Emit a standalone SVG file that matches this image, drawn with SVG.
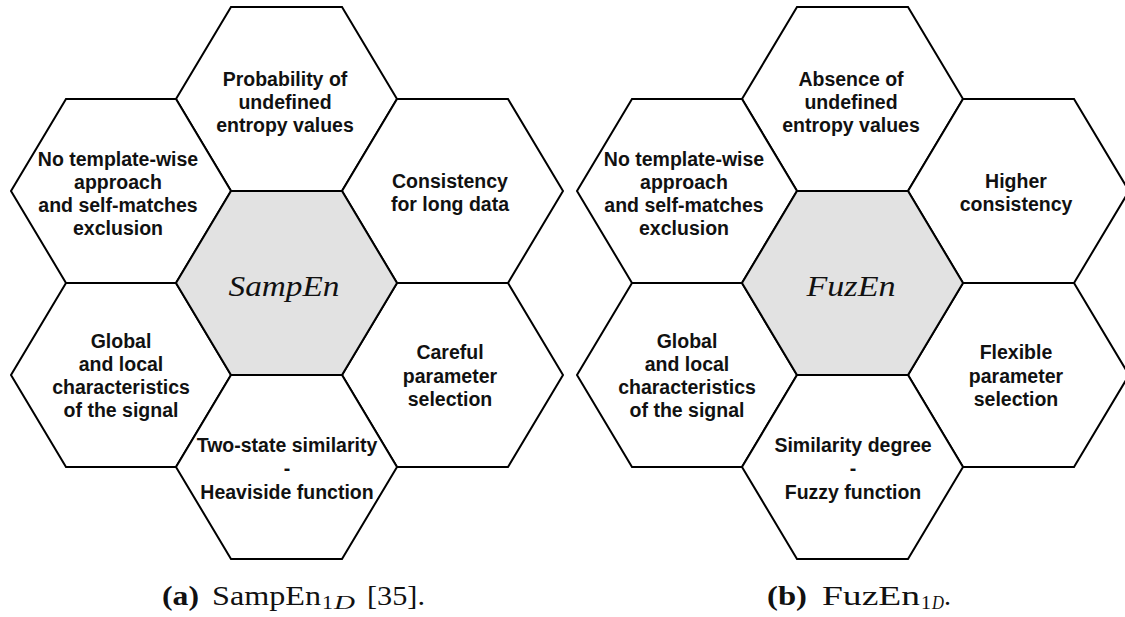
<svg xmlns="http://www.w3.org/2000/svg" width="1125" height="617" viewBox="0 0 1125 617">
<style>
.hex{fill:#ffffff;stroke:#000000;stroke-width:2;stroke-linejoin:miter}
.core{fill:#e2e2e2;stroke:#000000;stroke-width:2}
.lbl{font-family:"Liberation Sans",Arial,sans-serif;font-weight:bold;font-size:19.5px;fill:#111111;text-anchor:middle}
.math{font-family:"Liberation Serif","Times New Roman",serif;font-style:italic;font-size:30px;fill:#111111;text-anchor:middle}
.cap{font-family:"Liberation Serif","Times New Roman",serif;font-size:28px;fill:#111111}
.capb{font-weight:bold}
.sub{font-family:"Liberation Serif","Times New Roman",serif;font-size:19px;fill:#111111}
</style>
<rect x="0" y="0" width="1125" height="617" fill="#ffffff"/>

<!-- Left diagram: SampEn -->
<g id="a-top">
<polygon class="hex" points="231,7 342,7 397,99 342,191 231,191 176,99"/>
<text class="lbl" x="285" y="86">Probability of</text>
<text class="lbl" x="285" y="109">undefined</text>
<text class="lbl" x="285" y="132">entropy values</text>
</g>
<g id="a-topleft">
<polygon class="hex" points="66,99 176,99 231,191 176,283 66,283 11,191"/>
<text class="lbl" x="118" y="166">No template-wise</text>
<text class="lbl" x="118" y="189">approach</text>
<text class="lbl" x="118" y="212">and self-matches</text>
<text class="lbl" x="118" y="235">exclusion</text>
</g>
<g id="a-topright">
<polygon class="hex" points="397,99 508,99 563,191 508,283 397,283 342,191"/>
<text class="lbl" x="450" y="188">Consistency</text>
<text class="lbl" x="450" y="211">for long data</text>
</g>
<g id="a-bottomleft">
<polygon class="hex" points="66,283 176,283 231,375 176,467 66,467 11,375"/>
<text class="lbl" x="121" y="348">Global</text>
<text class="lbl" x="121" y="371">and local</text>
<text class="lbl" x="121" y="394">characteristics</text>
<text class="lbl" x="121" y="417">of the signal</text>
</g>
<g id="a-bottomright">
<polygon class="hex" points="397,283 508,283 563,375 508,467 397,467 342,375"/>
<text class="lbl" x="450" y="359">Careful</text>
<text class="lbl" x="450" y="382.5">parameter</text>
<text class="lbl" x="450" y="406">selection</text>
</g>
<g id="a-bottom">
<polygon class="hex" points="231,375 342,375 397,467 342,559 231,559 176,467"/>
<text class="lbl" x="287" y="452">Two-state similarity</text>
<text class="lbl" x="287" y="475">-</text>
<text class="lbl" x="287" y="498.5">Heaviside function</text>
</g>
<g id="a-center">
<polygon class="core" points="231,191 342,191 397,283 342,375 231,375 176,283"/>
<text class="math" x="284" y="296" textLength="111" lengthAdjust="spacingAndGlyphs">SampEn</text>
</g>

<!-- Right diagram: FuzEn -->
<g id="b-top">
<polygon class="hex" points="797,7 908,7 963,99 908,191 797,191 742,99"/>
<text class="lbl" x="851" y="86">Absence of</text>
<text class="lbl" x="851" y="109">undefined</text>
<text class="lbl" x="851" y="132">entropy values</text>
</g>
<g id="b-topleft">
<polygon class="hex" points="632,99 742,99 797,191 742,283 632,283 577,191"/>
<text class="lbl" x="684" y="166">No template-wise</text>
<text class="lbl" x="684" y="189">approach</text>
<text class="lbl" x="684" y="212">and self-matches</text>
<text class="lbl" x="684" y="235">exclusion</text>
</g>
<g id="b-topright">
<polygon class="hex" points="963,99 1074,99 1129,191 1074,283 963,283 908,191"/>
<text class="lbl" x="1016" y="188">Higher</text>
<text class="lbl" x="1016" y="211">consistency</text>
</g>
<g id="b-bottomleft">
<polygon class="hex" points="632,283 742,283 797,375 742,467 632,467 577,375"/>
<text class="lbl" x="687" y="348">Global</text>
<text class="lbl" x="687" y="371">and local</text>
<text class="lbl" x="687" y="394">characteristics</text>
<text class="lbl" x="687" y="417">of the signal</text>
</g>
<g id="b-bottomright">
<polygon class="hex" points="963,283 1074,283 1129,375 1074,467 963,467 908,375"/>
<text class="lbl" x="1016" y="359">Flexible</text>
<text class="lbl" x="1016" y="382.5">parameter</text>
<text class="lbl" x="1016" y="406">selection</text>
</g>
<g id="b-bottom">
<polygon class="hex" points="797,375 908,375 963,467 908,559 797,559 742,467"/>
<text class="lbl" x="853" y="452">Similarity degree</text>
<text class="lbl" x="853" y="475">-</text>
<text class="lbl" x="853" y="498.5">Fuzzy function</text>
</g>
<g id="b-center">
<polygon class="core" points="797,191 908,191 963,283 908,375 797,375 742,283"/>
<text class="math" x="851" y="296" textLength="89" lengthAdjust="spacingAndGlyphs">FuzEn</text>
</g>

<!-- Captions -->
<g id="caption-a">
<text class="cap capb" x="162" y="605" textLength="37" lengthAdjust="spacingAndGlyphs">(a)</text>
<text class="cap" x="212" y="605" textLength="109" lengthAdjust="spacingAndGlyphs">SampEn</text>
<text class="sub" x="322" y="609" textLength="11" lengthAdjust="spacingAndGlyphs">1</text>
<text class="sub" x="334" y="609" font-style="italic" textLength="21" lengthAdjust="spacingAndGlyphs">D</text>
<text class="cap" x="367" y="605" textLength="58" lengthAdjust="spacingAndGlyphs">[35].</text>
</g>
<g id="caption-b">
<text class="cap capb" x="767" y="605" textLength="40" lengthAdjust="spacingAndGlyphs">(b)</text>
<text class="cap" x="822" y="605" textLength="98" lengthAdjust="spacingAndGlyphs">FuzEn</text>
<text class="sub" x="921" y="609" textLength="10" lengthAdjust="spacingAndGlyphs">1</text>
<text class="sub" x="932" y="609" font-style="italic" textLength="12" lengthAdjust="spacingAndGlyphs">D</text>
<text class="cap" x="944" y="605">.</text>
</g>
</svg>
